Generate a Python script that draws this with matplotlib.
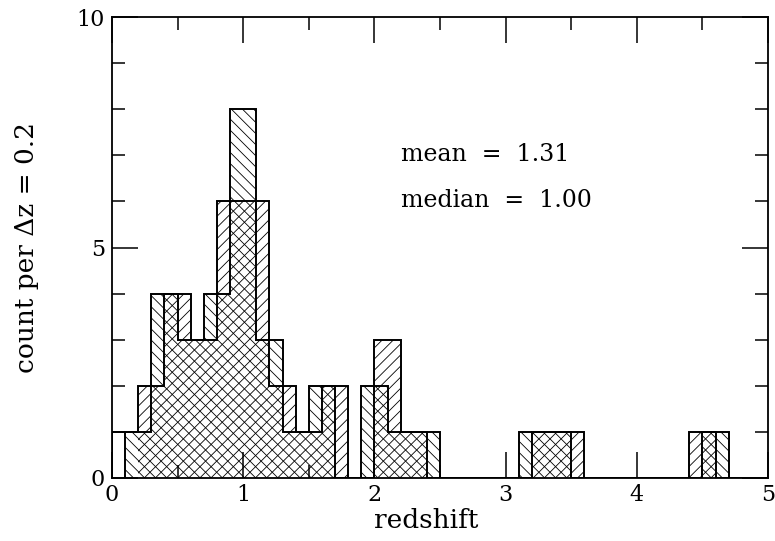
import numpy as np
import matplotlib
matplotlib.use("Agg")
import matplotlib.pyplot as plt
from matplotlib.ticker import MultipleLocator

plt.rcParams['font.family'] = ['DejaVu Serif']
plt.rcParams['hatch.linewidth'] = 0.6

# two histograms of the same sample, dz = 0.2, bin starts offset by 0.1
a_start = 0.0
a_counts = [1, 2, 4, 3, 6, 6, 2, 1, 2, 0, 3, 1, 0, 0, 0, 0, 1, 1, 0, 0, 0, 0, 1, 0, 0]
b_start = 0.1
b_counts = [1, 4, 3, 4, 8, 3, 1, 2, 0, 2, 1, 1, 0, 0, 0, 1, 1, 0, 0, 0, 0, 0, 1, 0]
dz = 0.2

mean_z = 1.31
median_z = 1.00

a_edges = a_start + dz * np.arange(len(a_counts) + 1)
b_edges = b_start + dz * np.arange(len(b_counts) + 1)

fig = plt.figure(figsize=(7.75, 5.41), dpi=100)
ax = fig.add_axes([0.1445, 0.1165, 0.8465, 0.852])

bars_a = ax.bar(a_edges[:-1], a_counts, width=dz, align='edge', facecolor='none',
                edgecolor='black', linewidth=0, hatch='///')
bars_a.patches[0].set_hatch('')   # first bin left unshaded in the original
ax.bar(b_edges[:-1], b_counts, width=dz, align='edge', facecolor='none',
       edgecolor='black', linewidth=0, hatch='\\\\\\')

ax.stairs(a_counts, a_edges, color='black', linewidth=1.4)
ax.stairs(b_counts, b_edges, color='black', linewidth=1.4)

ax.set_xlim(0, 5)
ax.set_ylim(0, 10)
ax.xaxis.set_major_locator(MultipleLocator(1))
ax.xaxis.set_minor_locator(MultipleLocator(0.5))
ax.yaxis.set_major_locator(MultipleLocator(5))
ax.yaxis.set_minor_locator(MultipleLocator(1))
ax.tick_params(which='both', direction='in', top=True, right=True, width=1.1,
               labelsize=16)
ax.tick_params(which='major', length=18.5)
ax.tick_params(which='minor', length=9.5)
ax.tick_params(axis='x', pad=4)
ax.tick_params(axis='y', pad=5)
for s in ax.spines.values():
    s.set_linewidth(1.3)

ax.set_xlabel('redshift', fontsize=19)
ax.xaxis.set_label_coords(0.479, -0.066)
ax.set_ylabel('count per \u0394z = 0.2', fontsize=19)
ax.yaxis.set_label_coords(-0.112, 0.5)

ax.text(0.44, 0.688, 'mean  =  %.2f' % mean_z, transform=ax.transAxes, fontsize=17)
ax.text(0.44, 0.588, 'median  =  %.2f' % median_z, transform=ax.transAxes, fontsize=17)

fig.savefig('out.png', dpi=100)
